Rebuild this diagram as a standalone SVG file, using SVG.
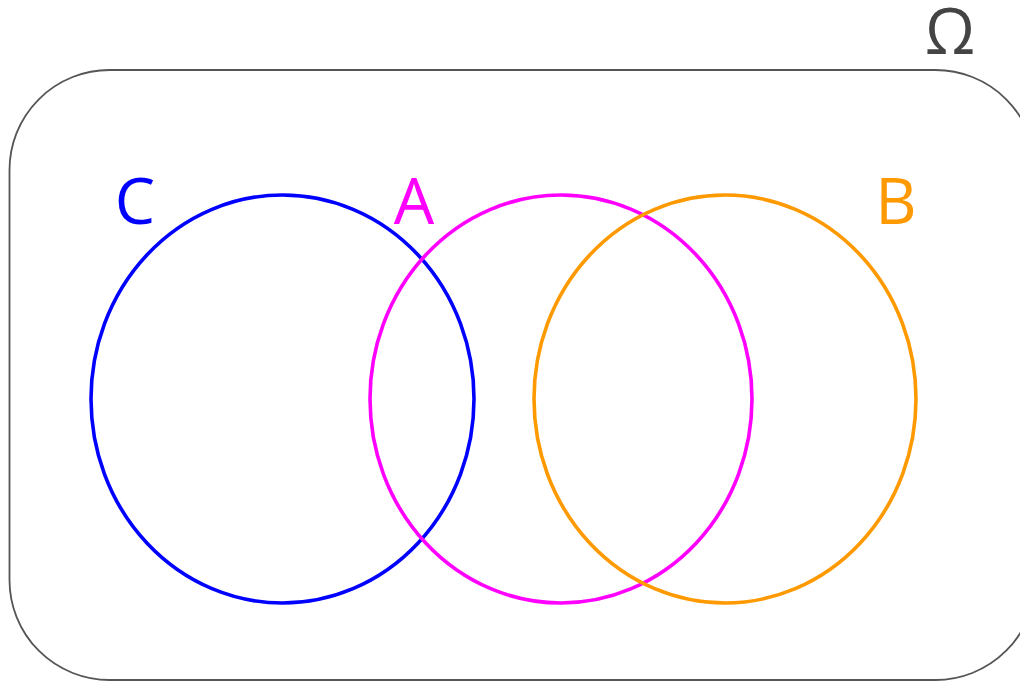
<svg xmlns="http://www.w3.org/2000/svg" width="1020" height="681" viewBox="0 0 1020 681">
<style>
.set{fill:none;stroke-width:3.6}
.lbl{font-family:"Open Sans","Noto Sans","DejaVu Sans",sans-serif;font-size:64px;text-anchor:middle}
</style>
<rect width="1020" height="681" fill="#fff"/>
<g id="omega">
<rect x="9.5" y="70" width="1026" height="610" rx="100" ry="100" fill="none" stroke="#555" stroke-width="1.8"/>
<text class="lbl" x="950" y="54" fill="#444">Ω</text>
</g>
<g id="C">
<ellipse class="set" cx="282.5" cy="399" rx="191.5" ry="204" stroke="#0000ff"/>
<text class="lbl" x="135" y="224" fill="#0000ff">C</text>
</g>
<g id="A">
<ellipse class="set" cx="561" cy="399" rx="191" ry="204" stroke="#ff00ff"/>
<text class="lbl" x="414" y="224" fill="#ff00ff">A</text>
</g>
<g id="B">
<ellipse class="set" cx="725" cy="399" rx="191" ry="204" stroke="#ff9900"/>
<text class="lbl" x="896" y="224" fill="#ff9900">B</text>
</g>
</svg>
